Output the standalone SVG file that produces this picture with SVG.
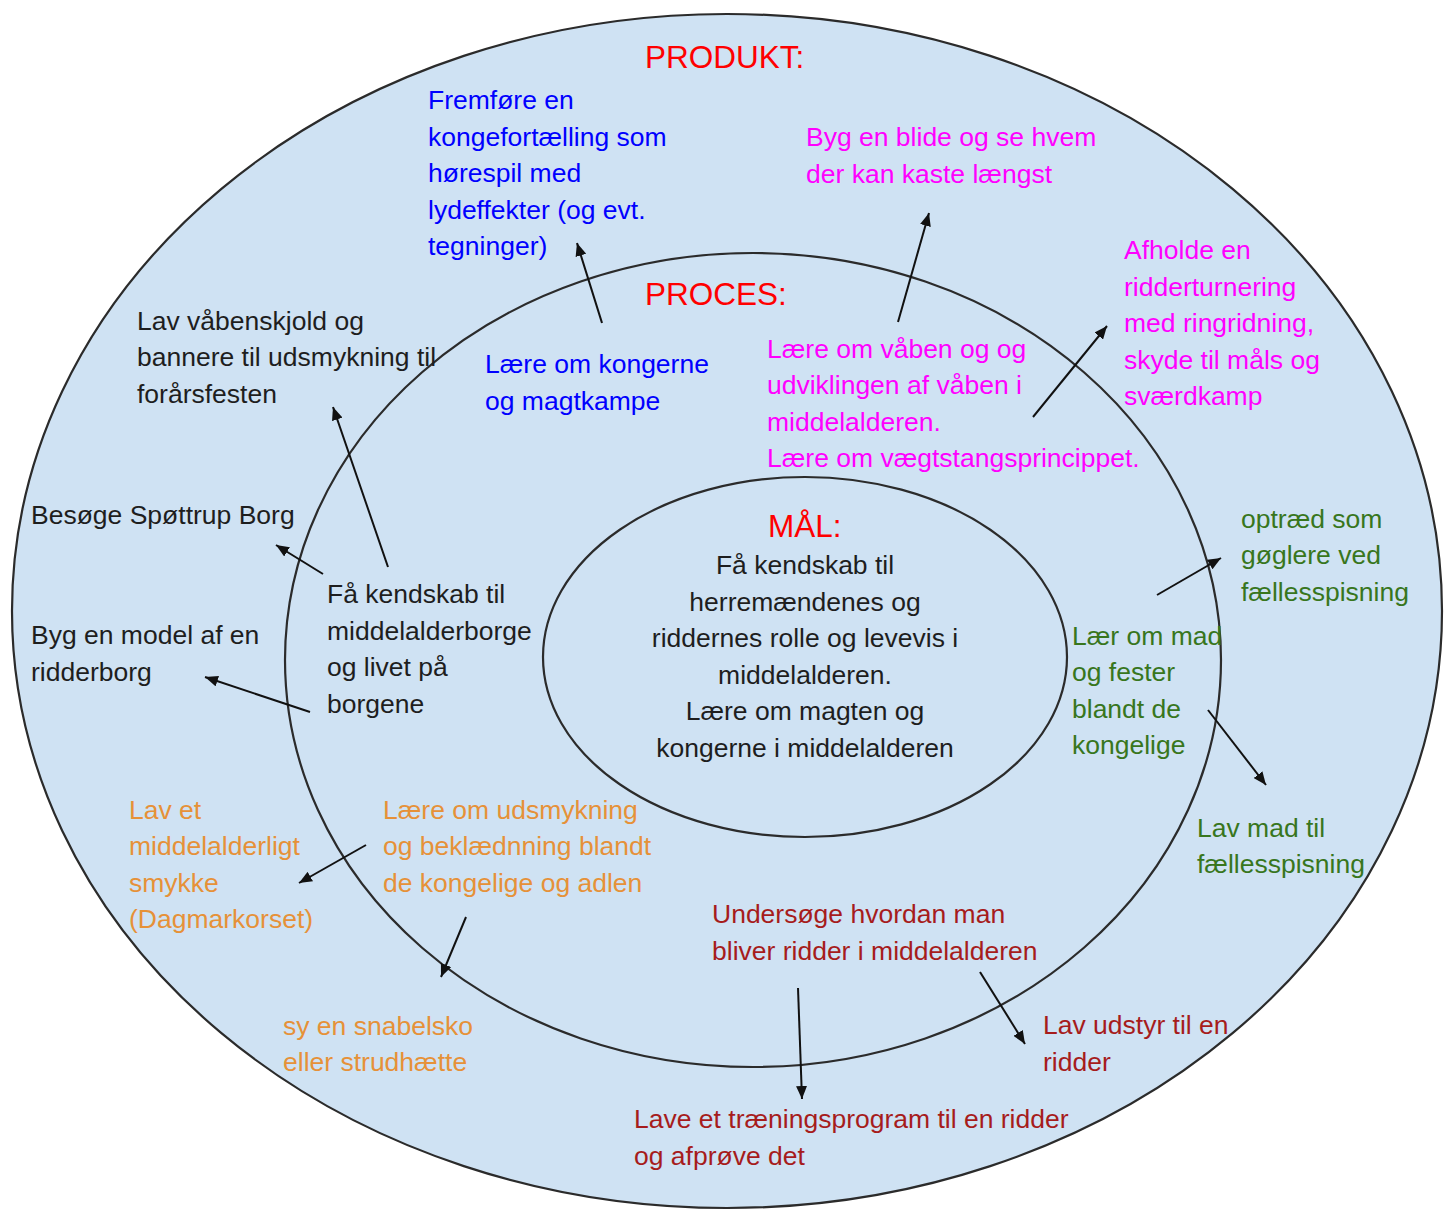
<svg xmlns="http://www.w3.org/2000/svg" width="1453" height="1211" viewBox="0 0 1453 1211">
<defs>
<style>
.ring{fill:#cfe2f3;stroke:#2b2b2b;stroke-width:2.2}
.inner{fill:none;stroke:#2b2b2b;stroke-width:2.2}
text{font-family:"Liberation Sans",Arial,sans-serif;font-size:26.5px}
.title{font-size:31.5px;fill:#ff0000}
.blue{fill:#0000ff}
.mag{fill:#ff00ff}
.blk{fill:#1e1e1e}
.grn{fill:#38761d}
.org{fill:#e69138}
.red{fill:#a61c1c}
.arr{stroke:#111;stroke-width:2;fill:none;marker-end:url(#ah)}
</style>
<marker id="ah" markerUnits="userSpaceOnUse" markerWidth="14" markerHeight="11" refX="13" refY="5.5" orient="auto">
<path d="M0,0 L13,5.5 L0,11 z" fill="#111"/>
</marker>
</defs>
<rect width="1453" height="1211" fill="#ffffff"/>
<g id="rings">
<ellipse id="outer" class="ring" cx="727" cy="611" rx="715" ry="597"/>
<ellipse id="middle" class="inner" cx="753" cy="660" rx="468" ry="407"/>
<ellipse id="innerRing" class="inner" cx="805" cy="657" rx="262" ry="180"/>
</g>
<g id="titles">
<text class="title" x="645" y="68">PRODUKT:</text>
<text class="title" x="645" y="305">PROCES:</text>
<text class="title" x="768" y="537">MÅL:</text>
</g>
<g id="node-maal" class="blk">
<text text-anchor="middle" class="blk"><tspan x="805" y="574">Få kendskab til</tspan><tspan x="805" y="611">herremændenes og</tspan><tspan x="805" y="647">riddernes rolle og levevis i</tspan><tspan x="805" y="684">middelalderen.</tspan><tspan x="805" y="720">Lære om magten og</tspan><tspan x="805" y="757">kongerne i middelalderen</tspan></text>
</g>
<g id="node-fremfoere">
<text class="blue"><tspan x="428" y="109">Fremføre en</tspan><tspan x="428" y="146">kongefortælling som</tspan><tspan x="428" y="182">hørespil med</tspan><tspan x="428" y="219">lydeffekter (og evt.</tspan><tspan x="428" y="255">tegninger)</tspan></text>
</g>
<g id="node-blide">
<text class="mag"><tspan x="806" y="146">Byg en blide og se hvem</tspan><tspan x="806" y="183">der kan kaste længst</tspan></text>
</g>
<g id="node-turnering">
<text class="mag"><tspan x="1124" y="259">Afholde en</tspan><tspan x="1124" y="296">ridderturnering</tspan><tspan x="1124" y="332">med ringridning,</tspan><tspan x="1124" y="369">skyde til måls og</tspan><tspan x="1124" y="405">sværdkamp</tspan></text>
</g>
<g id="node-kongerne">
<text class="blue"><tspan x="485" y="373">Lære om kongerne</tspan><tspan x="485" y="410">og magtkampe</tspan></text>
</g>
<g id="node-vaaben">
<text class="mag"><tspan x="767" y="358">Lære om våben og og</tspan><tspan x="767" y="394">udviklingen af våben i</tspan><tspan x="767" y="431">middelalderen.</tspan><tspan x="767" y="467">Lære om vægtstangsprincippet.</tspan></text>
</g>
<g id="node-vaabenskjold">
<text class="blk"><tspan x="137" y="330">Lav våbenskjold og</tspan><tspan x="137" y="366">bannere til udsmykning til</tspan><tspan x="137" y="403">forårsfesten</tspan></text>
</g>
<g id="node-spoettrup">
<text class="blk" x="31" y="524">Besøge Spøttrup Borg</text>
</g>
<g id="node-model">
<text class="blk"><tspan x="31" y="644">Byg en model af en</tspan><tspan x="31" y="681">ridderborg</tspan></text>
</g>
<g id="node-borge">
<text class="blk"><tspan x="327" y="603">Få kendskab til</tspan><tspan x="327" y="640">middelalderborge</tspan><tspan x="327" y="676">og livet på</tspan><tspan x="327" y="713">borgene</tspan></text>
</g>
<g id="node-goeglere">
<text class="grn"><tspan x="1241" y="528">optræd som</tspan><tspan x="1241" y="564">gøglere ved</tspan><tspan x="1241" y="601">fællesspisning</tspan></text>
</g>
<g id="node-mad">
<text class="grn"><tspan x="1072" y="645">Lær om mad</tspan><tspan x="1072" y="681">og fester</tspan><tspan x="1072" y="718">blandt de</tspan><tspan x="1072" y="754">kongelige</tspan></text>
</g>
<g id="node-lavmad">
<text class="grn"><tspan x="1197" y="837">Lav mad til</tspan><tspan x="1197" y="873">fællesspisning</tspan></text>
</g>
<g id="node-smykke">
<text class="org"><tspan x="129" y="819">Lav et</tspan><tspan x="129" y="855">middelalderligt</tspan><tspan x="129" y="892">smykke</tspan><tspan x="129" y="928">(Dagmarkorset)</tspan></text>
</g>
<g id="node-udsmykning">
<text class="org"><tspan x="383" y="819">Lære om udsmykning</tspan><tspan x="383" y="855">og beklædnning blandt</tspan><tspan x="383" y="892">de kongelige og adlen</tspan></text>
</g>
<g id="node-snabelsko">
<text class="org"><tspan x="283" y="1035">sy en snabelsko</tspan><tspan x="283" y="1071">eller strudhætte</tspan></text>
</g>
<g id="node-ridder">
<text class="red"><tspan x="712" y="923">Undersøge hvordan man</tspan><tspan x="712" y="960">bliver ridder i middelalderen</tspan></text>
</g>
<g id="node-traening">
<text class="red"><tspan x="634" y="1128">Lave et træningsprogram til en ridder</tspan><tspan x="634" y="1165">og afprøve det</tspan></text>
</g>
<g id="node-udstyr">
<text class="red"><tspan x="1043" y="1034">Lav udstyr til en</tspan><tspan x="1043" y="1071">ridder</tspan></text>
</g>
<g id="connectors">
<line class="arr" x1="602" y1="323" x2="577" y2="243"/>
<line class="arr" x1="898" y1="322" x2="929" y2="213"/>
<line class="arr" x1="1033" y1="417" x2="1107" y2="326"/>
<line class="arr" x1="388" y1="567" x2="333" y2="407"/>
<line class="arr" x1="323" y1="574" x2="276" y2="545"/>
<line class="arr" x1="310" y1="712" x2="205" y2="677"/>
<line class="arr" x1="1157" y1="595" x2="1221" y2="558"/>
<line class="arr" x1="1208" y1="710" x2="1266" y2="785"/>
<line class="arr" x1="366" y1="845" x2="299" y2="883"/>
<line class="arr" x1="466" y1="917" x2="441" y2="977"/>
<line class="arr" x1="798" y1="988" x2="802" y2="1099"/>
<line class="arr" x1="980" y1="972" x2="1025" y2="1044"/>
</g>
</svg>
